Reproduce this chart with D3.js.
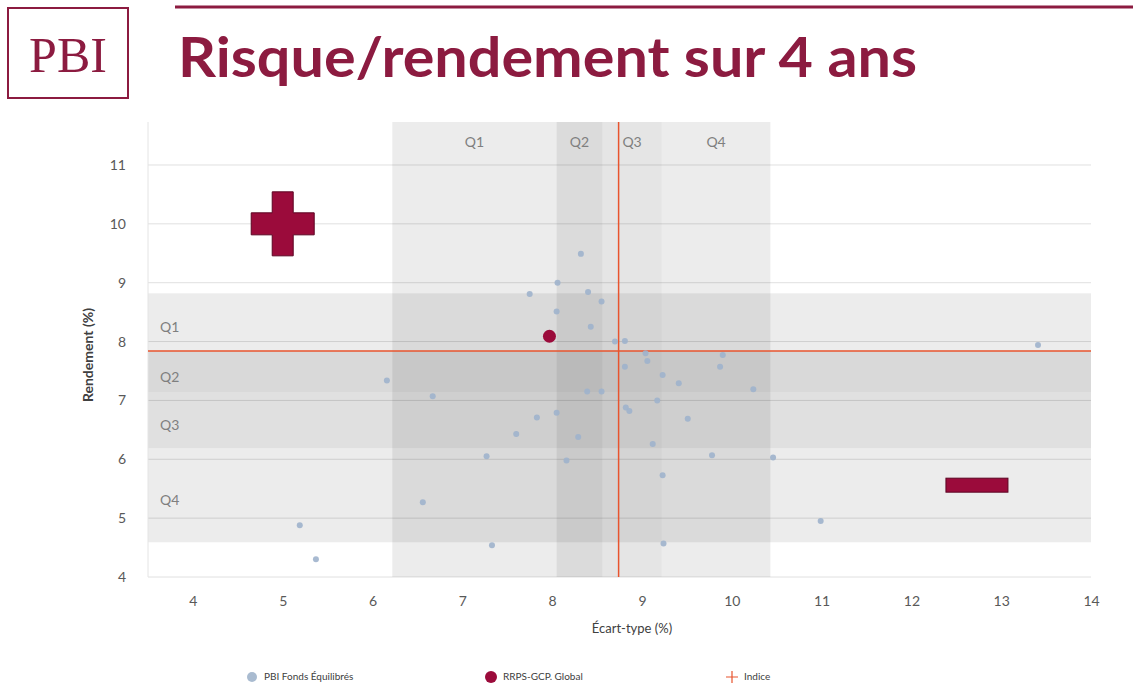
<!DOCTYPE html>
<html><head><meta charset="utf-8">
<script src="https://cdn.jsdelivr.net/npm/d3@7/dist/d3.min.js"></script>
<style>body{margin:0;background:#fff;}svg{display:block;}</style>
</head><body>
<svg id="c" width="1133" height="683"></svg>
<script>
// ---- data ----
const fundsX = [8.32,8.06,7.75,8.40,8.55,8.05,8.43,8.70,8.81,13.41,9.04,9.06,9.90,9.87,8.81,9.23,9.41,10.24,6.16,6.67,8.39,8.55,9.17,8.82,8.86,8.05,7.83,9.51,7.60,8.29,9.12,7.27,8.16,9.78,10.46,9.23,6.56,5.19,10.99,7.33,9.24,5.37];
const fundsY = [9.49,9.00,8.81,8.84,8.68,8.51,8.25,8.00,8.01,7.94,7.80,7.67,7.77,7.57,7.57,7.43,7.29,7.19,7.34,7.07,7.15,7.15,7.00,6.88,6.82,6.79,6.71,6.69,6.43,6.38,6.26,6.05,5.98,6.07,6.03,5.73,5.27,4.88,4.95,4.54,4.57,4.30];
const planX = [7.97];
const planY = [8.09];
const indexX = 8.74;
const indexY = 7.84;
const xBandEdges = [6.22, 8.05, 8.56, 9.22, 10.43];
const yBandEdges = [8.82, 7.84, 7.14, 6.19, 4.59];
const bandLabels = ["Q1","Q2","Q3","Q4"];
const xTicks = [4,5,6,7,8,9,10,11,12,13,14];
const yTicks = [4,5,6,7,8,9,10,11];
const legendLabels = ["PBI Fonds Équilibrés","RRPS-GCP. Global","Indice"];
const titleText = "Risque/rendement sur 4 ans";
const xTitle = "Écart-type (%)";
const yTitle = "Rendement (%)";
const plusPos = [5, 10];
const minusPos = [12.73, 5.56];

// ---- drawing ----
const svg = d3.select("#c");
const maroon = "#8c1b40";
const font = "Lato, 'Open Sans', sans-serif";
const x = d3.scaleLinear().domain([3.5, 14]).range([148, 1091]);
const y = d3.scaleLinear().domain([4, 11.73]).range([577, 122]);

// header
svg.append("line").attr("x1",175).attr("x2",1133).attr("y1",7).attr("y2",7)
  .attr("stroke",maroon).attr("stroke-width",3);
svg.append("rect").attr("x",8).attr("y",8).attr("width",120).attr("height",90)
  .attr("fill","none").attr("stroke",maroon).attr("stroke-width",2);
svg.append("text").attr("x",68).attr("y",72).attr("text-anchor","middle")
  .attr("font-family","'Liberation Serif', 'DejaVu Serif', serif").attr("font-size",50)
  .attr("fill",maroon).text("PBI");
svg.append("text").attr("x",178).attr("y",77)
  .attr("font-family",font).attr("font-weight","bold").attr("font-size",55)
  .attr("fill",maroon).attr("textLength",739).attr("lengthAdjust","spacingAndGlyphs")
  .text(titleText);

// gridlines
svg.append("g").selectAll("line").data(yTicks).join("line")
  .attr("x1",x(3.5)).attr("x2",x(14)).attr("y1",d=>y(d)).attr("y2",d=>y(d))
  .attr("stroke","#e0e0e0").attr("stroke-width",1);

// bands
const vOp = [0.075, 0.14, 0.10, 0.075];
const hOp = [0.075, 0.15, 0.12, 0.075];
const vb = d3.range(4).map(i=>({a:xBandEdges[i], b:xBandEdges[i+1], op:vOp[i], lab:bandLabels[i]}));
const hb = d3.range(4).map(i=>({a:yBandEdges[i], b:yBandEdges[i+1], op:hOp[i], lab:bandLabels[i]}));
svg.append("g").selectAll("rect").data(vb).join("rect")
  .attr("x",d=>x(d.a)).attr("width",d=>x(d.b)-x(d.a))
  .attr("y",y(11.73)).attr("height",y(4)-y(11.73))
  .attr("fill","#000").attr("fill-opacity",d=>d.op);
svg.append("g").selectAll("rect").data(hb).join("rect")
  .attr("x",x(3.5)).attr("width",x(14)-x(3.5))
  .attr("y",d=>y(d.a)).attr("height",d=>y(d.b)-y(d.a))
  .attr("fill","#000").attr("fill-opacity",d=>d.op);
svg.append("g").selectAll("text").data(vb).join("text")
  .attr("x",d=>(x(d.a)+x(d.b))/2).attr("y",147).attr("text-anchor","middle")
  .attr("font-family",font).attr("font-size",14).attr("fill","#7f7f7f").text(d=>d.lab);
svg.append("g").selectAll("text").data(hb).join("text")
  .attr("x",160).attr("y",d=>(y(d.a)+y(d.b))/2+10)
  .attr("font-family",font).attr("font-size",14).attr("fill","#7f7f7f").text(d=>d.lab);

// left axis line
svg.append("line").attr("x1",x(3.5)).attr("x2",x(3.5)).attr("y1",y(11.73)).attr("y2",y(4))
  .attr("stroke","#e4e4e4");

// axes
const xAxis = svg.append("g").attr("transform",`translate(0,${y(4)})`)
  .call(d3.axisBottom(x).tickValues(xTicks).tickSize(0).tickPadding(19));
xAxis.select(".domain").remove();
xAxis.selectAll("text").attr("font-family",font).attr("font-size",14).attr("fill","#595959");
const yAxis = svg.append("g").attr("transform",`translate(${x(3.5)},0)`)
  .call(d3.axisLeft(y).tickValues(yTicks).tickSize(0).tickPadding(22));
yAxis.select(".domain").remove();
yAxis.selectAll("text").attr("font-family",font).attr("font-size",14).attr("fill","#595959");

svg.append("text").attr("x",632).attr("y",633).attr("text-anchor","middle")
  .attr("font-family",font).attr("font-size",13).attr("fill","#404040").text(xTitle);
svg.append("text").attr("transform",`translate(93,355) rotate(-90)`).attr("text-anchor","middle")
  .attr("font-family",font).attr("font-size",14).attr("font-weight","bold").attr("fill","#404040").text(yTitle);

// index lines
svg.append("line").attr("x1",x(indexX)).attr("x2",x(indexX)).attr("y1",y(11.73)).attr("y2",y(4))
  .attr("stroke","#e8542e").attr("stroke-width",1.5);
svg.append("line").attr("x1",x(3.5)).attr("x2",x(14)).attr("y1",y(indexY)).attr("y2",y(indexY))
  .attr("stroke","#e8542e").attr("stroke-width",1.5);

// points
svg.append("g").selectAll("circle").data(fundsX.map((v,i)=>[v,fundsY[i]])).join("circle")
  .attr("cx",d=>x(d[0])).attr("cy",d=>y(d[1])).attr("r",3)
  .attr("fill","#9fb3cc").attr("fill-opacity",0.9);
svg.append("g").selectAll("circle").data(planX.map((v,i)=>[v,planY[i]])).join("circle")
  .attr("cx",d=>x(d[0])).attr("cy",d=>y(d[1])).attr("r",6.5)
  .attr("fill","#9b0b3b");

// plus / minus symbols
const pc = [x(plusPos[0]), y(plusPos[1])];
const plusPath = `M${pc[0]-10.5},${pc[1]-32}h21v21h21v22h-21v21h-21v-21h-21v-22h21z`;
svg.append("path").attr("d",plusPath).attr("fill","#9b0b3b").attr("stroke","#5c0422").attr("stroke-width",1);
const mc = [x(minusPos[0]), y(minusPos[1])];
svg.append("rect").attr("x",mc[0]-31).attr("y",mc[1]-7).attr("width",62).attr("height",14)
  .attr("fill","#9b0b3b").attr("stroke","#5c0422").attr("stroke-width",1);

// legend
const lg = svg.append("g").attr("font-family",font).attr("font-size",10).attr("fill","#404040");
lg.append("circle").attr("cx",252).attr("cy",677).attr("r",5).attr("fill","#a9bbd0");
lg.append("text").attr("x",264).attr("y",680).text(legendLabels[0]);
lg.append("circle").attr("cx",491).attr("cy",677).attr("r",6).attr("fill","#9b0b3b");
lg.append("text").attr("x",503).attr("y",680).text(legendLabels[1]);
lg.append("path").attr("d","M726,677h12M732,671v12").attr("stroke","#e8542e").attr("stroke-width",1.2);
lg.append("text").attr("x",744).attr("y",680).text(legendLabels[2]);
</script>
</body></html>
